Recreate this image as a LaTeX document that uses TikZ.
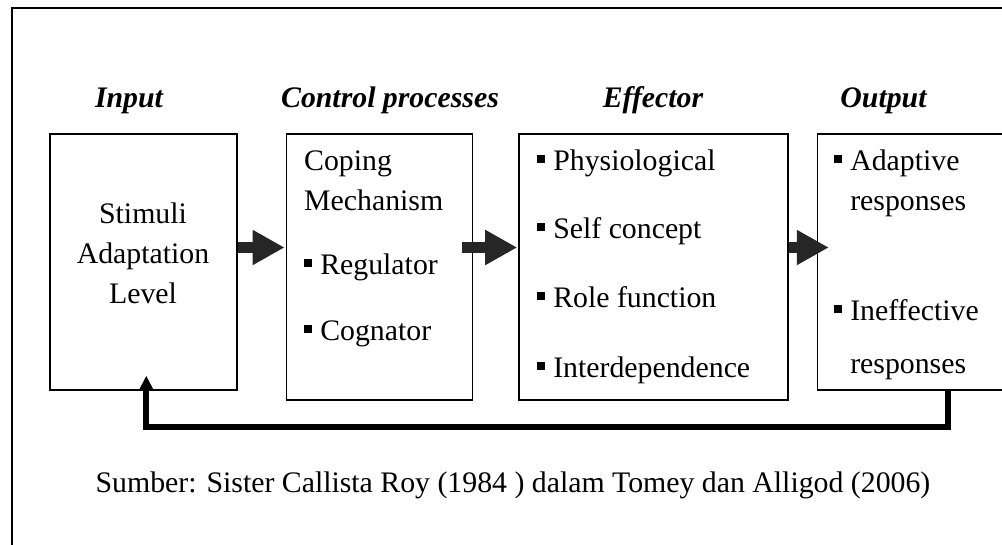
\documentclass[tikz,border=0pt]{standalone}
\usepackage{fontspec}
\setmainfont{Liberation Serif}
\usetikzlibrary{arrows.meta,positioning}

\newcommand{\bul}{\rule[0.23em]{0.27em}{0.27em}\hspace{0.27em}}

\tikzset{%
    block/.style    = {draw, line width=1.6pt, rectangle, inner sep=0pt, anchor=north west},
    txt/.style      = {inner sep=0pt, align=left, font=\fontsize{29.8}{40}\selectfont},
    title/.style    = {inner sep=0pt, anchor=base, font=\fontsize{29.8}{36}\selectfont\bfseries\itshape},
    bigarrow/.style = {draw=black!85, line width=11pt, -{Triangle[length=32pt, width=33pt]}},
    feedback/.style = {draw, line width=6pt, -{Triangle[length=15pt, width=14pt]}},
}

\begin{document}
\begin{tikzpicture}[x=1pt, y=-1pt]
    \useasboundingbox (0,0) rectangle (1002,544);
    \clip (0,0) rectangle (1002,544);
    % frame
    \draw [line width=1.8pt] (12,8) rectangle (1030,570);

    % We start by placing the blocks
    \node [block, minimum width=187pt, minimum height=256pt] (in_box) at (49,133) {};
    \node [block, minimum width=186pt, minimum height=266pt, right=48pt of in_box.north east, anchor=north west] (ctrl_box) {};
    \node [block, minimum width=269pt, minimum height=266pt, right=45pt of ctrl_box.north east, anchor=north west] (eff_box) {};
    \node [block, minimum width=230pt, minimum height=256pt, right=28pt of eff_box.north east, anchor=north west] (out_box) {};

    % titles
    \node [title] (t_in) at (129,107) {Input};
    \node [title] (t_ctrl) at (390,107) {Control processes};
    \node [title] (t_eff) at (653,107) {Effector};
    \node [title] (t_out) at (883.5,107) {Output};

    % box texts (base = last line)
    \node [txt, align=center, anchor=base] (in_txt) at (143,303) {Stimuli\\Adaptation\\Level};
    \node [txt, anchor=base west] (ctrl_txt) at (304,340) {Coping\\Mechanism\\[24pt]\bul Regulator\\[26pt]\bul Cognator};
    \node [txt, anchor=base west] (eff_txt) at (537,377) {\bul Physiological\\[28pt]\bul Self concept\\[29pt]\bul Role function\\[30pt]\bul Interdependence};
    \node [txt, anchor=base west] (out_txt) at (834,373) {\bul Adaptive\\\hphantom{\bul}responses\\[70pt]\bul Ineffective\\[13pt]\hphantom{\bul}responses};

    \node [txt, anchor=base] (source) at (513,492) {Sumber: Sister Callista Roy (1984 ) dalam Tomey dan Alligod (2006)};

    % Once the nodes are placed, connecting them is easy.
    \coordinate (arr_y) at (0,247.5);
    \coordinate (fb_y) at (0,427);
    \draw [bigarrow] (in_box.east |- arr_y) -- ([xshift=-1pt]ctrl_box.west |- arr_y);
    \draw [bigarrow] ([xshift=-11pt]ctrl_box.east |- arr_y) -- ([xshift=-1pt]eff_box.west |- arr_y);
    \draw [bigarrow] (eff_box.east |- arr_y) -- ([xshift=12pt]out_box.west |- arr_y);

    \draw [feedback] ([xshift=131pt]out_box.south west) -- ([xshift=131pt]out_box.south west |- fb_y)
        -- ([xshift=3pt]in_box.south |- fb_y) -- ([xshift=3pt,yshift=15pt]in_box.south);
\end{tikzpicture}
\end{document}
